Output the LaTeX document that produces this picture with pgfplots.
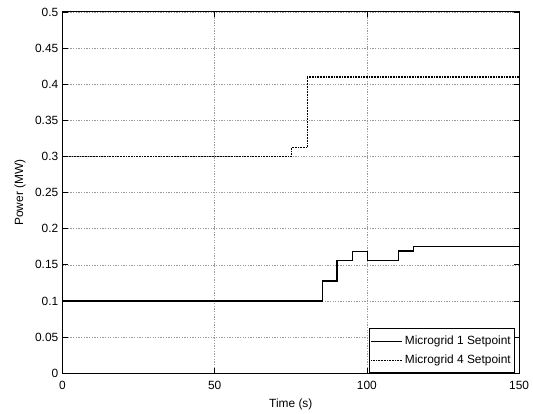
\documentclass[border=0pt]{standalone}
\usepackage{fontspec}
\setmainfont{Liberation Sans}
\usepackage{pgfplots}
\pgfplotsset{compat=1.18}
\usetikzlibrary{calc}

\begin{document}
\begin{tikzpicture}
\fontsize{9}{11}\selectfont
\begin{axis}[
    name=ax,
    scale only axis,
    width=345pt, height=273pt,
    xmin=0, xmax=150,
    ymin=0, ymax=0.5,
    xtick={0,50,100,150},
    ytick={0,0.05,0.1,0.15,0.2,0.25,0.3,0.35,0.4,0.45,0.5},
    yticklabel style={/pgf/number format/fixed, /pgf/number format/precision=2},
    xticklabel style={yshift=-2.5pt},
    /pgf/number format/assume math mode=true,
    tick label style={font=\fontsize{9}{11}\selectfont},
    label style={font=\fontsize{9}{11}\selectfont},
    xlabel={Time (s)},
    ylabel={Power (MW)},
    ylabel style={yshift=1pt},
    xlabel style={yshift=-1pt},
    grid=major,
    major grid style={gray!80, line width=0.4pt, dash pattern=on 1pt off 1pt},
    axis line style={line width=0.8pt},
    tick style={black, line width=0.6pt},
    major tick length=4pt,
    tick align=inside,
    legend style={at={(1,0)}, anchor=south east, xshift=-3pt, draw=black, line width=0.6pt,
        fill=white, font=\fontsize{9}{11}\selectfont, inner xsep=1pt, inner ysep=3.5pt, row sep=2.5pt},
    legend image code/.code={\draw[#1] (0pt,0pt) -- (23pt,0pt);},
    legend cell align=left,
]
\addplot[const plot, black, line width=0.9pt] coordinates {
    (0,0.1)
    (85.3,0.1275)
    (90.2,0.1556)
    (95.3,0.1685)
    (100.2,0.1556)
    (110.3,0.169)
    (115.2,0.1754)
    (150,0.1754)
};
\addplot[const plot, black, line width=0.9pt, dash pattern=on 0.6pt off 0.6pt] coordinates {
    (0,0.3)
    (75.2,0.3127)
    (80.4,0.41)
    (150,0.41)
};
\legend{Microgrid 1 Setpoint, Microgrid 4 Setpoint}
\end{axis}
\path ($(ax.south west)+(-47.25pt,-27pt)$) rectangle ($(ax.north east)+(7.5pt,9pt)$);
\end{tikzpicture}
\end{document}
